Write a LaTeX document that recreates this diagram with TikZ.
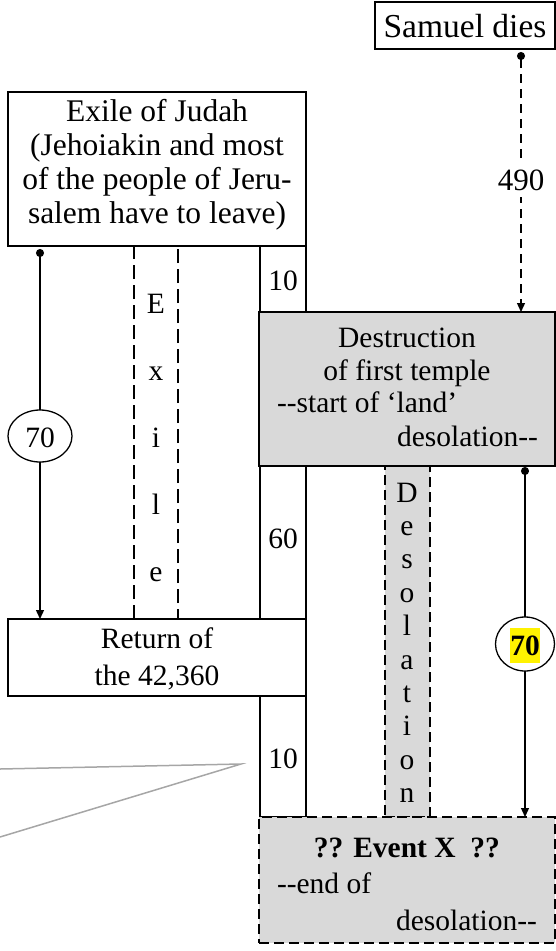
\documentclass[tikz,border=0pt]{standalone}
\usepackage{fontspec}
\setmainfont{Liberation Serif}[Ligatures=TeXOff]
\usetikzlibrary{arrows.meta,shapes.geometric,calc}
\definecolor{shade}{HTML}{D9D9D9}
\definecolor{callout}{HTML}{A6A6A6}
\begin{document}
\begin{tikzpicture}[x=1pt,y=-1pt,
  every node/.style={font=\fontsize{29.5}{34}\selectfont, inner sep=0pt, outer sep=0pt},
  box/.style={draw, line width=1.4pt, rectangle, anchor=north west},
  dashbox/.style={box, dash pattern=on 10pt off 5pt},
  longdash/.style={box, dash pattern=on 14pt off 6pt},
  txt/.style={anchor=base},
  txtl/.style={anchor=base west},
  txtr/.style={anchor=base east},
  bigtxt/.style={anchor=base, font=\fontsize{31.5}{34}\selectfont},
  oval/.style={draw, ellipse, line width=1.3pt, fill=white},
  conn/.style={line width=1.3pt},
  dotstart/.style={{Circle[length=8pt]}-},
  dotarrow/.style={{Circle[length=8pt]}-{Triangle[length=9pt,width=8pt]}},
  tip/.style={-{Triangle[length=9pt,width=8pt]}},
  callline/.style={draw=callout, line width=1.5pt}
]
\useasboundingbox (0,0) rectangle (556,951);

% columns (drawn first)
\node[longdash, minimum width=44pt, minimum height=373pt] (exilecol) at (134,246) {};
\node[dashbox, fill=shade, minimum width=45pt, minimum height=351pt] (desolcol) at (385,466) {};

% boxes
\node[box, minimum width=180pt, minimum height=47pt] (samuel) at (375,2) {};
\node[box, minimum width=298pt, minimum height=154pt] (exile) at (8,92) {};
\node[box, minimum width=46pt, minimum height=66pt] (tenA) at (260,246) {};
\node[box, fill=shade, minimum width=296pt, minimum height=154pt] (destr) at (259,312) {};
\node[box, minimum width=46pt, minimum height=153pt] (sixty) at (260,466) {};
\node[box, minimum width=298pt, minimum height=77pt] (return) at (8,619) {};
\node[box, minimum width=46pt, minimum height=121pt] (tenB) at (260,696) {};
\node[dashbox, fill=shade, minimum width=296pt, minimum height=126pt] (event) at (259,817) {};

% texts
\node[anchor=base, font=\fontsize{33.5}{36}\selectfont] (tsam) at (465,37) {Samuel dies};
\node[bigtxt] (tex1) at (157,121) {Exile of Judah};
\node[bigtxt] (tex2) at (157,155) {(Jehoiakin and most};
\node[bigtxt] (tex3) at (157,189) {of the people of Jeru-};
\node[bigtxt] (tex4) at (157,223) {salem have to leave)};
\node[txt] (tten1) at (283,290) {10};
\node[txt] (td1) at (407,347) {Destruction};
\node[txt] (td2) at (407,380) {of first temple};
\node[txtl] (td3) at (277,412) {--start of ‘land’};
\node[txtr] (td4) at (538,446) {desolation--};
\node[txt] (tsixty) at (283,548) {60};
\node[txt] (tr1) at (157,648) {Return of};
\node[txt] (tr2) at (157,685) {the 42,360};
\node[txt] (tten2) at (283,768) {10};
\node[txt] (te1) at (407,857) {\bfseries ?? Event X~ ??};
\node[txtl] (te2) at (277,893) {--end of};
\node[txtr] (te3) at (537,930) {desolation--};

% vertical words
\foreach \ch [count=\k from 0] in {E,x,i,l,e}
  \node[txt] (exl\k) at (156,313+67*\k) {\ch};
\foreach \ch [count=\k from 0] in {D,e,s,o,l,a,t,i,o,n}
  \node[txt] (dsl\k) at (407,502+33.4*\k) {\ch};

% ovals
\node[oval, minimum width=64pt, minimum height=52pt] (ovA) at (40,436) {};
\node[txt] (tovA) at (40,447) {70};
\node[oval, minimum width=59pt, minimum height=54pt] (ovB) at (525,644) {};
\node[anchor=base, fill=yellow, inner xsep=0.5pt, text height=27pt, text depth=8pt, font=\fontsize{29.5}{34}\selectfont\bfseries] (tovB) at (525,655) {70};

% connector x positions
\coordinate (xA) at (40,0);
\coordinate (xS) at (521,0);
\coordinate (xB) at (525,0);

% connectors
\draw[conn, dotstart, shorten <=3pt] (xA |- exile.south) -- (ovA.north);
\draw[conn, tip] (ovA.south) -- (xA |- return.north);

\draw[conn, dotarrow, shorten <=3pt, dash pattern=on 9pt off 6pt] (xS |- samuel.south) -- node[fill=white, inner ysep=6pt, font=\fontsize{31}{34}\selectfont] (l490) {490} (xS |- destr.north);

\draw[conn, dotstart, shorten <=1pt] (xB |- destr.south) -- (ovB.north);
\draw[conn, tip] (ovB.south) -- (xB |- event.north);

% grey callout lines
\coordinate (g1) at (0,769);
\coordinate (gtip) at (241,764);
\coordinate (g2) at (0,837);
\draw[callline] (g1) -- (gtip) -- (g2);
\end{tikzpicture}
\end{document}
